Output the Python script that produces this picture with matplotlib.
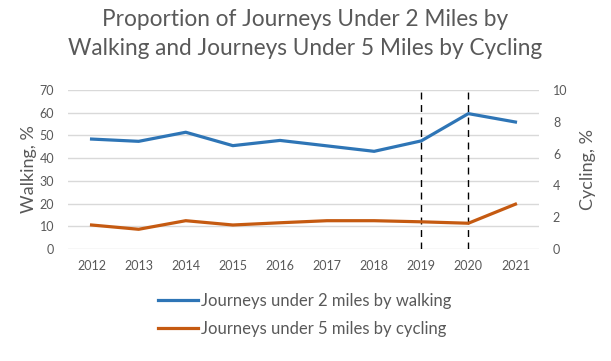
import matplotlib.pyplot as plt

years = ['2012', '2013', '2014', '2015', '2016', '2017', '2018', '2019', '2020', '2021']
walking = [48.4, 47.4, 51.4, 45.5, 47.8, 45.4, 43.0, 47.6, 59.6, 55.9]
cycling = [1.51, 1.24, 1.78, 1.51, 1.65, 1.78, 1.78, 1.71, 1.62, 2.82]
marked_years = ['2019', '2020']

grey = '#595959'
plt.rcParams['font.family'] = ['Lato', 'DejaVu Sans']

fig = plt.figure(figsize=(6.11, 3.61), dpi=100)
ax = fig.add_axes([68/611, 1-249/361, (539-68)/611, (249-90)/361])
ax2 = ax.twinx()

x = list(range(len(years)))
l1, = ax.plot(x, walking, color='#2e75b6', lw=2.3, label='Journeys under 2 miles by walking')
l2, = ax2.plot(x, cycling, color='#c55a11', lw=2.3, label='Journeys under 5 miles by cycling')

for yr in marked_years:
    ax.axvline(years.index(yr), color='black', lw=1, ls=(0, (5, 4)), zorder=1)

ax.set_xlim(-0.5, len(years) - 0.5)
ax.set_ylim(0, 70)
ax2.set_ylim(0, 10)
ax.set_yticks(range(0, 71, 10))
ax2.set_yticks(range(0, 11, 2))
ax.set_xticks(x)
ax.set_xticklabels(years)
ax.grid(axis='y', color='#d9d9d9', lw=1)
ax.set_axisbelow(True)

for a in (ax, ax2):
    for s in a.spines.values():
        s.set_visible(False)
    a.tick_params(length=0, colors=grey, labelsize=9)
ax.tick_params(axis='x', pad=8)
ax.tick_params(axis='y', pad=10)
ax2.tick_params(axis='y', pad=10)

ax.set_ylabel('Walking, %', color=grey, fontsize=13, labelpad=2)
ax2.set_ylabel('Cycling, %', color=grey, fontsize=13, labelpad=9)

fig.text(0.5, 1-34/361, 'Proportion of Journeys Under 2 Miles by\nWalking and Journeys Under 5 Miles by Cycling',
         ha='center', va='center', fontsize=16.3, color=grey, linespacing=1.5)

fig.legend(handles=[l1, l2], loc='center', bbox_to_anchor=(305/611, 1-315/361), frameon=False,
           fontsize=12, labelcolor=grey, handlelength=2.4, handletextpad=0.2, labelspacing=0.75)

fig.savefig('out.png', dpi=100)
